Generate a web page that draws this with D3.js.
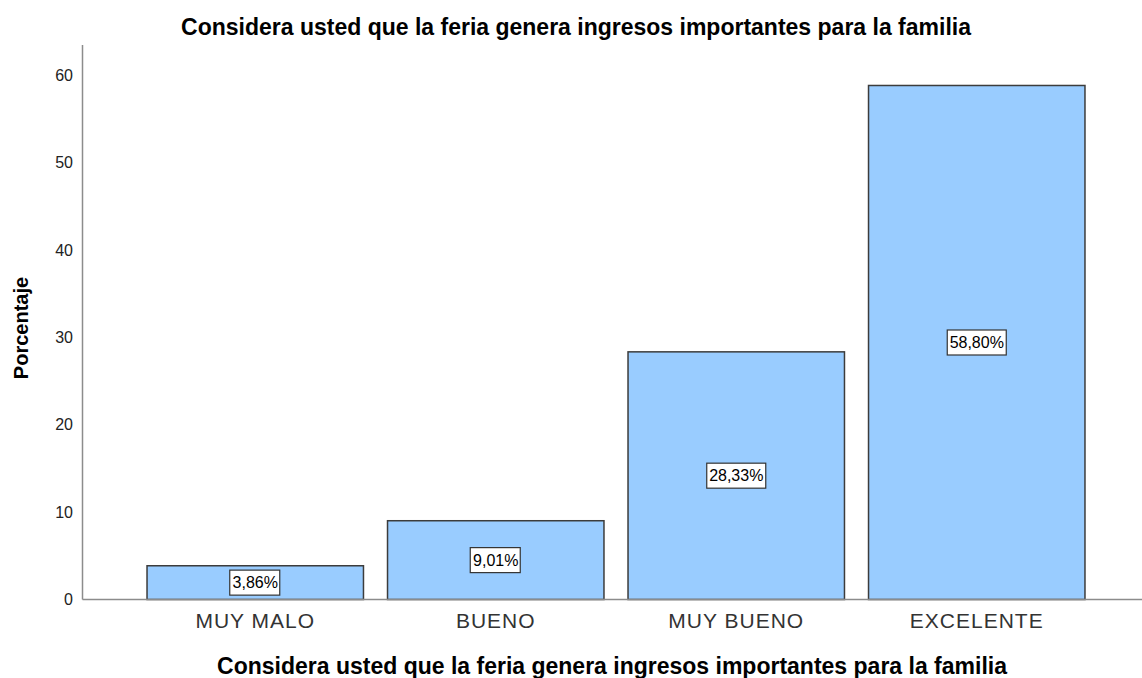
<!DOCTYPE html>
<html>
<head>
<meta charset="utf-8">
<script src="https://cdn.jsdelivr.net/npm/d3@7"></script>
<style>
  body { margin: 0; background: #fff; }
  text { font-family: "Liberation Sans", Arial, sans-serif; }
</style>
</head>
<body>
<div id="chart"></div>
<script>
const categories = ["MUY MALO", "BUENO", "MUY BUENO", "EXCELENTE"];
const percents = [3.86, 9.01, 28.33, 58.80];
const yTicks = [0, 10, 20, 30, 40, 50, 60];
const chartTitle = "Considera usted que la feria genera ingresos importantes para la familia";
const xTitle = "Considera usted que la feria genera ingresos importantes para la familia";
const yTitle = "Porcentaje";

const width = 1142, height = 678;
const svg = d3.select("#chart").append("svg")
    .attr("width", width)
    .attr("height", height);

const axisX = 82.5, axisY = 599.5, axisTop = 45;

const x = d3.scaleBand()
    .domain(categories)
    .range([135, 1097])
    .paddingInner(0.1)
    .paddingOuter(0.05);

const y = d3.scaleLinear()
    .domain([0, 60])
    .range([axisY, 75]);

// title
svg.append("text")
    .attr("x", 576).attr("y", 35)
    .attr("text-anchor", "middle")
    .attr("font-size", 23).attr("font-weight", "bold")
    .attr("fill", "#000")
    .text(chartTitle);

// y tick labels
svg.append("g")
    .selectAll("text")
    .data(yTicks)
    .join("text")
    .attr("x", 73).attr("y", d => y(d))
    .attr("dy", "0.36em")
    .attr("text-anchor", "end")
    .attr("font-size", 16)
    .attr("fill", "#222")
    .text(d => d);

// bars
svg.append("g")
    .selectAll("rect")
    .data(percents)
    .join("rect")
    .attr("x", (d, i) => x(categories[i]))
    .attr("y", d => y(d))
    .attr("width", x.bandwidth())
    .attr("height", d => axisY - y(d))
    .attr("fill", "#99ccff")
    .attr("stroke", "#3c3c3c")
    .attr("stroke-width", 1.5);

// axes lines
svg.append("line")
    .attr("x1", axisX).attr("x2", axisX)
    .attr("y1", axisTop).attr("y2", axisY)
    .attr("stroke", "#8c8c8c").attr("stroke-width", 1.5);
svg.append("line")
    .attr("x1", axisX).attr("x2", width)
    .attr("y1", axisY).attr("y2", axisY)
    .attr("stroke", "#8c8c8c").attr("stroke-width", 1.5);

// value labels
const labels = svg.append("g")
    .selectAll("g")
    .data(percents)
    .join("g")
    .attr("transform", (d, i) => `translate(${x(categories[i]) + x.bandwidth() / 2},${(y(d) + axisY) / 2})`);
labels.append("text")
    .attr("text-anchor", "middle")
    .attr("dy", "0.36em")
    .attr("font-size", 16)
    .attr("fill", "#000")
    .text(d => d.toFixed(2).replace(".", ",") + "%");
labels.each(function() {
    const g = d3.select(this);
    const b = g.select("text").node().getBBox();
    g.insert("rect", "text")
        .attr("x", Math.round(b.x) - 2.5)
        .attr("y", -12.5)
        .attr("width", Math.round(b.width) + 5)
        .attr("height", 25)
        .attr("fill", "#fff")
        .attr("stroke", "#333")
        .attr("stroke-width", 1.2);
});

// category labels
svg.append("g")
    .selectAll("text")
    .data(categories)
    .join("text")
    .attr("x", d => x(d) + x.bandwidth() / 2)
    .attr("y", 628)
    .attr("text-anchor", "middle")
    .attr("font-size", 21)
    .attr("letter-spacing", 1)
    .attr("fill", "#333")
    .text(d => d);

// x title
svg.append("text")
    .attr("x", 612).attr("y", 674)
    .attr("text-anchor", "middle")
    .attr("font-size", 23).attr("font-weight", "bold")
    .attr("fill", "#000")
    .text(xTitle);

// y title
svg.append("text")
    .attr("transform", "translate(28,328) rotate(-90)")
    .attr("text-anchor", "middle")
    .attr("font-size", 20).attr("font-weight", "bold")
    .attr("fill", "#000")
    .text(yTitle);
</script>
</body>
</html>
